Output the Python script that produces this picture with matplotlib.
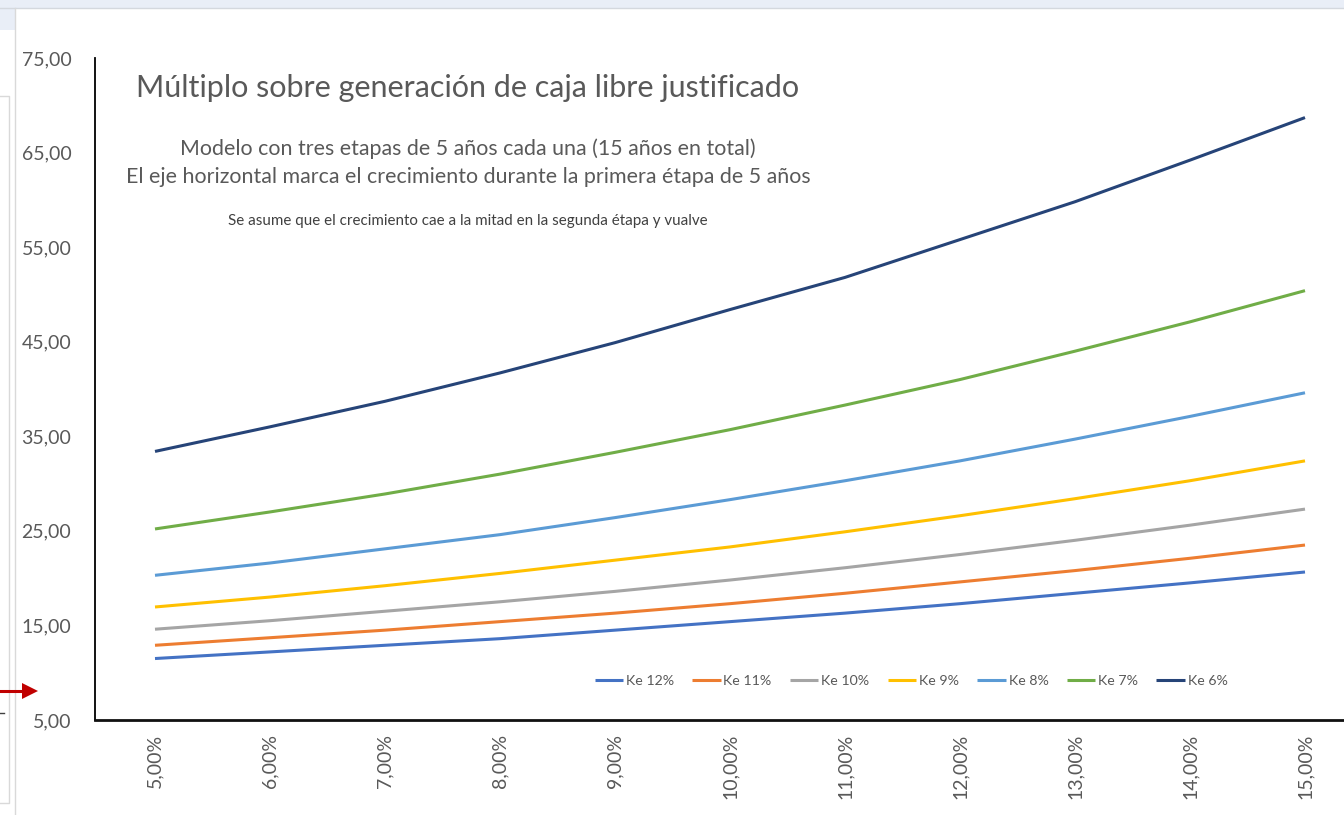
import numpy as np
import matplotlib.pyplot as plt
from matplotlib.patches import Rectangle, Polygon
from matplotlib.lines import Line2D
from matplotlib.ticker import FuncFormatter

# growth during the first 5-year stage (%)
growth = [5, 6, 7, 8, 9, 10, 11, 12, 13, 14, 15]

# justified multiple per cost of equity
ke_12 = [11.5, 12.2, 12.9, 13.6, 14.5, 15.4, 16.3, 17.3, 18.4, 19.5, 20.65]
ke_11 = [12.9, 13.7, 14.5, 15.4, 16.3, 17.3, 18.4, 19.6, 20.8, 22.1, 23.5]
ke_10 = [14.6, 15.5, 16.5, 17.5, 18.6, 19.8, 21.1, 22.5, 24.0, 25.6, 27.3]
ke_9 = [16.95, 18.0, 19.2, 20.5, 21.9, 23.3, 24.9, 26.6, 28.4, 30.3, 32.4]
ke_8 = [20.3, 21.6, 23.1, 24.6, 26.4, 28.3, 30.3, 32.4, 34.7, 37.1, 39.6]
ke_7 = [25.2, 27.0, 28.9, 31.0, 33.3, 35.7, 38.3, 41.0, 44.0, 47.1, 50.4]
ke_6 = [33.4, 36.0, 38.7, 41.7, 44.9, 48.4, 51.8, 55.8, 59.8, 64.2, 68.7]

series = [
    ("Ke 12%", ke_12, "#4472C4"),
    ("Ke 11%", ke_11, "#ED7D31"),
    ("Ke 10%", ke_10, "#A5A5A5"),
    ("Ke 9%", ke_9, "#FFC000"),
    ("Ke 8%", ke_8, "#5B9BD5"),
    ("Ke 7%", ke_7, "#70AD47"),
    ("Ke 6%", ke_6, "#264478"),
]

plt.rcParams['font.family'] = ['Lato', 'DejaVu Sans']
text_col = '#595959'

W, H = 1344, 815
fig = plt.figure(figsize=(W / 100, H / 100), dpi=100)


def fx(px):
    return px / W


def fy(py):
    return 1 - py / H


# window chrome around the chart (screenshot look)
fig.patches.append(Rectangle((0, fy(8)), 1, 8 / H, transform=fig.transFigure,
                             facecolor='#e9eef7', edgecolor='none', zorder=0))
fig.patches.append(Rectangle((0, fy(30)), fx(15), 22 / H, transform=fig.transFigure,
                             facecolor='#e9eef7', edgecolor='none', zorder=0))
fig.lines.append(Line2D([0, 1], [fy(8), fy(8)], transform=fig.transFigure,
                        color='#d4d8de', lw=1))
fig.lines.append(Line2D([fx(15), fx(15)], [fy(8), 0], transform=fig.transFigure,
                        color='#d9d9d9', lw=1))
fig.lines.append(Line2D([0, fx(9), fx(9), 0], [fy(96), fy(96), fy(803), fy(803)],
                        transform=fig.transFigure, color='#d9d9d9', lw=1))
fig.lines.append(Line2D([0, fx(4)], [fy(713), fy(713)], transform=fig.transFigure,
                        color='#404040', lw=1))

# red arrow pointing at the chart
fig.lines.append(Line2D([0, fx(24)], [fy(691), fy(691)], transform=fig.transFigure,
                        color='#c00000', lw=2.2))
fig.patches.append(Polygon([[fx(22), fy(683)], [fx(38), fy(691)], [fx(22), fy(699)]],
                           closed=True, transform=fig.transFigure,
                           facecolor='#c00000', edgecolor='none'))

# plot area
left, right, top, bottom = 95, 1344, 58, 720
ax = fig.add_axes([fx(left), fy(bottom), fx(right - left), (bottom - top) / H])
ax.set_facecolor('none')

for name, vals, col in series:
    ax.plot(growth, vals, color=col, lw=2.2, label=name, solid_capstyle='butt')

# 5% sits at x=155 px and 15% at x=1305 px
ppu = (1305 - 155) / 10
ax.set_xlim(5 - (155 - left) / ppu, 15 + (right - 1305) / ppu)
ax.set_ylim(5, 75)
ax.set_xticks(growth)
ax.set_yticks(np.arange(5, 76, 10))
ax.xaxis.set_major_formatter(FuncFormatter(lambda v, p: f"{v:.2f}".replace('.', ',') + '%'))
ax.yaxis.set_major_formatter(FuncFormatter(lambda v, p: f"{v:.2f}".replace('.', ',')))
ax.tick_params(axis='both', length=0, labelsize=14, labelcolor=text_col)
ax.tick_params(axis='y', pad=17)
ax.tick_params(axis='x', pad=10)
for lbl in ax.get_xticklabels():
    lbl.set_rotation(90)

for s in ['top', 'right']:
    ax.spines[s].set_visible(False)
ax.spines['left'].set_color('black')
ax.spines['left'].set_linewidth(1.3)
ax.spines['bottom'].set_color('#111111')
ax.spines['bottom'].set_linewidth(2)

# titles
fig.text(fx(468), fy(88), "Múltiplo sobre generación de caja libre justificado",
         ha='center', va='center', fontsize=22, color=text_col)
fig.text(fx(468), fy(149), "Modelo con tres etapas de 5 años cada una (15 años en total)",
         ha='center', va='center', fontsize=15.4, color=text_col)
fig.text(fx(468), fy(177), "El eje horizontal marca el crecimiento durante la primera étapa de 5 años",
         ha='center', va='center', fontsize=15.4, color=text_col)
fig.text(fx(468), fy(221), "Se asume que el crecimiento cae a la mitad en la segunda étapa y vualve",
         ha='center', va='center', fontsize=10.9, color='#404040')

leg = ax.legend(loc='center', bbox_to_anchor=(fx(911), fy(681)),
                bbox_transform=fig.transFigure, ncol=7, frameon=False,
                fontsize=10.2, handlelength=2.0, handletextpad=0.2, columnspacing=1.3)
for t in leg.get_texts():
    t.set_color(text_col)

fig.savefig('out.png', dpi=100)
